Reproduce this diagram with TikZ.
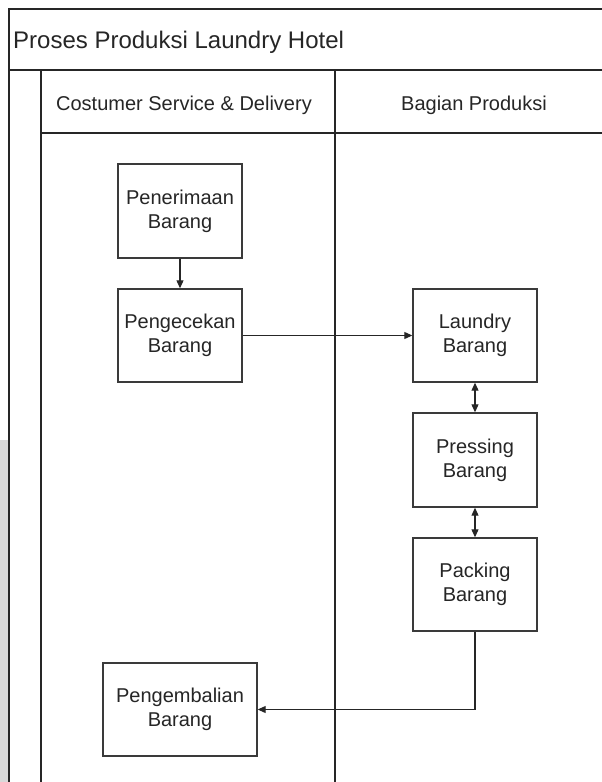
\documentclass[tikz,border=0pt]{standalone}
\usepackage{fontspec}
\setmainfont{Liberation Sans}
\usetikzlibrary{arrows.meta}
\definecolor{ink}{HTML}{262626}
\definecolor{edge}{HTML}{3A3A3A}
\definecolor{strip}{HTML}{D9D9D9}
\begin{document}
\begin{tikzpicture}[x=1pt,y=-1pt,
  frame/.style={draw=ink,line width=1.5pt},
  procbox/.style={draw=edge,line width=1.4pt,fill=white,align=center,inner sep=0pt,
    text=ink,font=\fontsize{20}{24}\selectfont},
  flow/.style={draw=ink,line width=1.1pt,-{Triangle[length=8pt,width=7pt]}},
  twoway/.style={draw=ink,line width=1.1pt,{Triangle[length=8pt,width=7pt]}-{Triangle[length=8pt,width=7pt]}},
  label/.style={inner sep=0pt,text=ink}]
\useasboundingbox (0,0) rectangle (602,782);
\fill[white] (0,0) rectangle (602,782);
\fill[strip] (0,440) rectangle (9,782);

% pool frame and lanes
\draw[frame] (9,782) -- (9,9) -- (602,9);
\draw[frame] (9,70) -- (602,70);
\draw[frame] (41,70) -- (41,782);
\draw[frame] (41,133) -- (602,133);
\draw[frame] (335,70) -- (335,782);

% titles
\node[label,anchor=base west,font=\fontsize{24}{28}\selectfont] (pool) at (13,48) {Proses Produksi Laundry Hotel};
\node[label,anchor=base,font=\fontsize{20}{24}\selectfont] (laneA) at (184,110) {Costumer Service \& Delivery};
\node[label,anchor=base,font=\fontsize{20}{24}\selectfont] (laneB) at (474,110) {Bagian Produksi};

% process steps
\node[procbox,minimum width=124pt,minimum height=94pt] (terima) at (180,211) {Penerimaan\\Barang};
\node[procbox,minimum width=124pt,minimum height=93pt] (cek) at (180,335.5) {Pengecekan\\Barang};
\node[procbox,minimum width=124pt,minimum height=93pt] (laundry) at (475,335.5) {Laundry\\Barang};
\node[procbox,minimum width=124pt,minimum height=94pt] (press) at (475,460) {Pressing\\Barang};
\node[procbox,minimum width=124pt,minimum height=93pt] (pack) at (475,584.5) {Packing\\Barang};
\node[procbox,minimum width=154pt,minimum height=93pt] (kembali) at (180,709.5) {Pengembalian\\Barang};

% connectors
\draw[flow] (terima) -- (cek);
\draw[flow] (cek) -- (laundry);
\draw[twoway] (laundry) -- (press);
\draw[twoway] (press) -- (pack);
\draw[flow] (pack.south) |- (kembali.east);
\end{tikzpicture}
\end{document}
